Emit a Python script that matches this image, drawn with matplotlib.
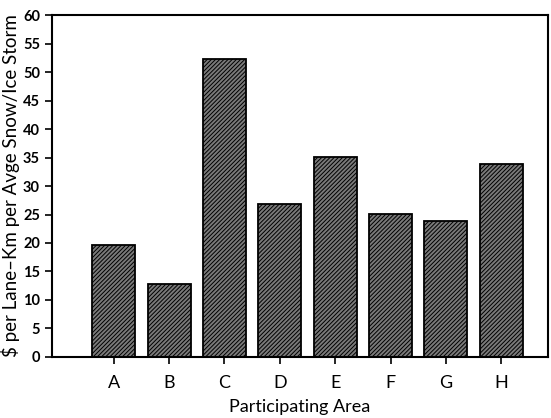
import matplotlib
matplotlib.use("Agg")
import matplotlib.pyplot as plt
import numpy as np

plt.rcParams.update({"font.family": ["Lato", "DejaVu Sans"], "hatch.linewidth": 0.7})

areas = ["A", "B", "C", "D", "E", "F", "G", "H"]
cost = [19.6, 12.8, 52.3, 26.8, 35.1, 25.1, 23.9, 33.9]

x = np.arange(len(areas))

fig = plt.figure(figsize=(5.51, 4.18), dpi=100)
ax = fig.add_axes([0.094, 0.146, 0.901, 0.818])
ax.bar(x, cost, 0.78, facecolor="#7a7a7a", edgecolor="black", hatch="////////", linewidth=1.3)

ax.set_xlim(-1.12, 7.85)
ax.set_ylim(0, 60)
ax.set_yticks(np.arange(0, 61, 5))
ax.set_xticks(x)
ax.set_xticklabels(areas, fontsize=13)
ax.tick_params(axis="y", labelsize=10.5, width=1.2, length=5)
ax.tick_params(axis="x", width=1.2, length=5, pad=8)
for lbl in ax.get_yticklabels():
    lbl.set_fontweight("bold")
for s in ax.spines.values():
    s.set_linewidth(1.5)

ax.set_ylabel("$ per Lane\u2013Km per Avge Snow/Ice Storm", fontsize=13.5, labelpad=2)
ax.set_xlabel("Participating Area", fontsize=13, labelpad=6)

fig.savefig("out.png", dpi=100)
